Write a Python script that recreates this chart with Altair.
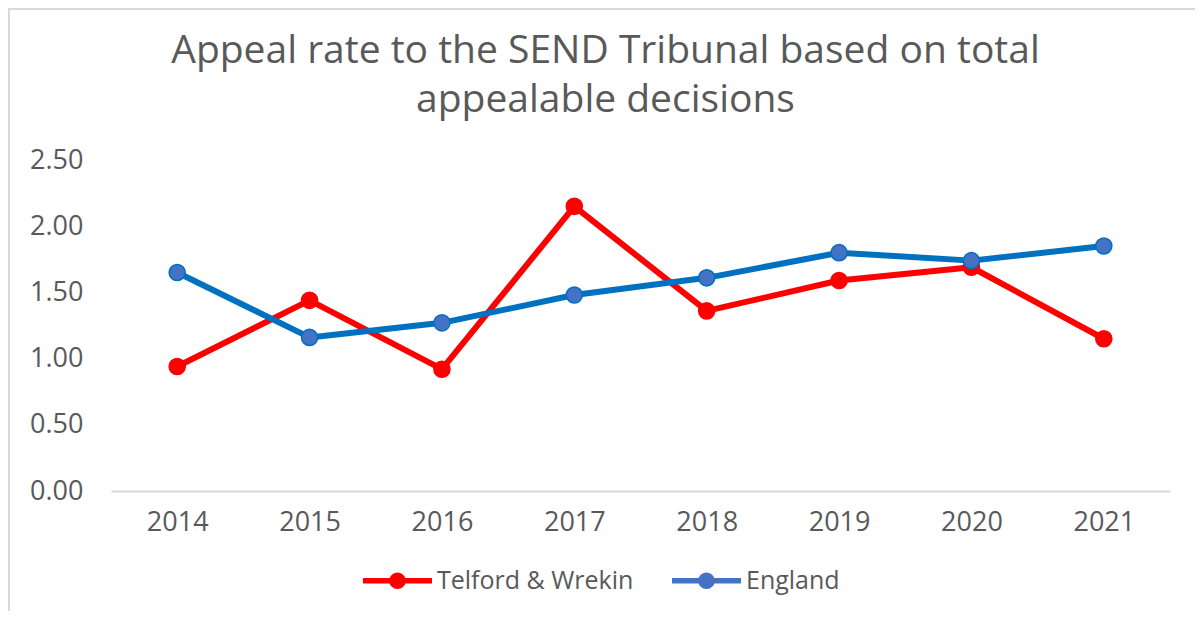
import altair as alt
import pandas as pd

years = ["2014", "2015", "2016", "2017", "2018", "2019", "2020", "2021"]
telford = [0.94, 1.44, 0.92, 2.15, 1.36, 1.59, 1.69, 1.15]
england = [1.65, 1.16, 1.27, 1.48, 1.61, 1.80, 1.74, 1.85]
series_names = ["Telford & Wrekin", "England"]
line_colors = ["#FF0000", "#0070C0"]
marker_fills = ["#FF0000", "#4472C4"]
y_ticks = [0, 0.5, 1.0, 1.5, 2.0, 2.5]
title_lines = ["Appeal rate to the SEND Tribunal based on total", "appealable decisions"]

rows = []
for name, vals, lc, mf in zip(series_names, [telford, england], line_colors, marker_fills):
    for yr, v in zip(years, vals):
        rows.append({"year": yr, "series": name, "value": v, "lcol": lc, "mcol": mf})
df = pd.DataFrame(rows)

FONT = "Open Sans"
GREY = "#595959"
FRAME = "#D9D9D9"

legend_symbol = (
    "M-1,-0.08 L1,-0.08 L1,0.08 L-1,0.08 Z "
    "M0.24,0 A0.24,0.24 0 1,1 -0.24,0 A0.24,0.24 0 1,1 0.24,0 Z"
)

x_enc = alt.X(
    "year:O",
    sort=years,
    scale=alt.Scale(type="point", padding=0.5),
    axis=alt.Axis(
        title=None, labelAngle=0, ticks=False, domainColor=FRAME,
        domainWidth=2, labelFontSize=27, labelColor=GREY, labelFont=FONT,
        labelPadding=18, grid=False,
    ),
)
y_enc = alt.Y(
    "value:Q",
    scale=alt.Scale(domain=[0, 2.5], nice=False),
    axis=alt.Axis(
        title=None, values=y_ticks, format=".2f", domain=False, ticks=False,
        grid=False, labelFontSize=27, labelColor=GREY, labelFont=FONT,
        labelPadding=28,
    ),
)

base = alt.Chart(df)

lines = base.mark_line(strokeWidth=6, strokeJoin="round").encode(
    x=x_enc,
    y=y_enc,
    stroke=alt.Stroke("lcol:N", scale=None),
    detail="series:N",
)

points = base.mark_point(filled=True, size=260, opacity=1, strokeWidth=1.5).encode(
    x=x_enc,
    y=y_enc,
    color=alt.Color(
        "series:N", sort=series_names,
        scale=alt.Scale(domain=series_names, range=marker_fills),
        legend=alt.Legend(
            title=None, orient="none", legendX=252, legendY=386,
            direction="horizontal", symbolType=legend_symbol,
            symbolSize=4761, symbolStrokeWidth=0, labelFontSize=25,
            labelFont=FONT, labelColor=GREY, labelOffset=5,
            columnPadding=38, labelLimit=400,
        ),
    ),
    stroke=alt.Stroke("lcol:N", scale=None),
)

frame_df = pd.DataFrame({"k": [0]})
frame_left = alt.Chart(frame_df).mark_rect(color=FRAME, opacity=1).encode(
    x=alt.value(-103), x2=alt.value(-101), y=alt.value(-152), y2=alt.value(451)
)
frame_top = alt.Chart(frame_df).mark_rect(color=FRAME, opacity=1).encode(
    x=alt.value(-103), x2=alt.value(1084), y=alt.value(-152), y2=alt.value(-150)
)

chart = alt.layer(frame_left, frame_top, lines, points).properties(
    width=1059,
    height=331,
    title=alt.TitleParams(
        text=title_lines, font=FONT, fontSize=39, fontWeight="normal",
        color=GREY, anchor="middle", dx=-35, lineHeight=49, offset=-112,
    ),
    autosize=alt.AutoSizeParams(type="none"),
    padding={"left": 103, "top": 152, "right": 25, "bottom": 120},
).configure(font=FONT).configure_view(strokeWidth=0)

chart.save("out.html", embed_options={"renderer": "svg", "actions": False})
